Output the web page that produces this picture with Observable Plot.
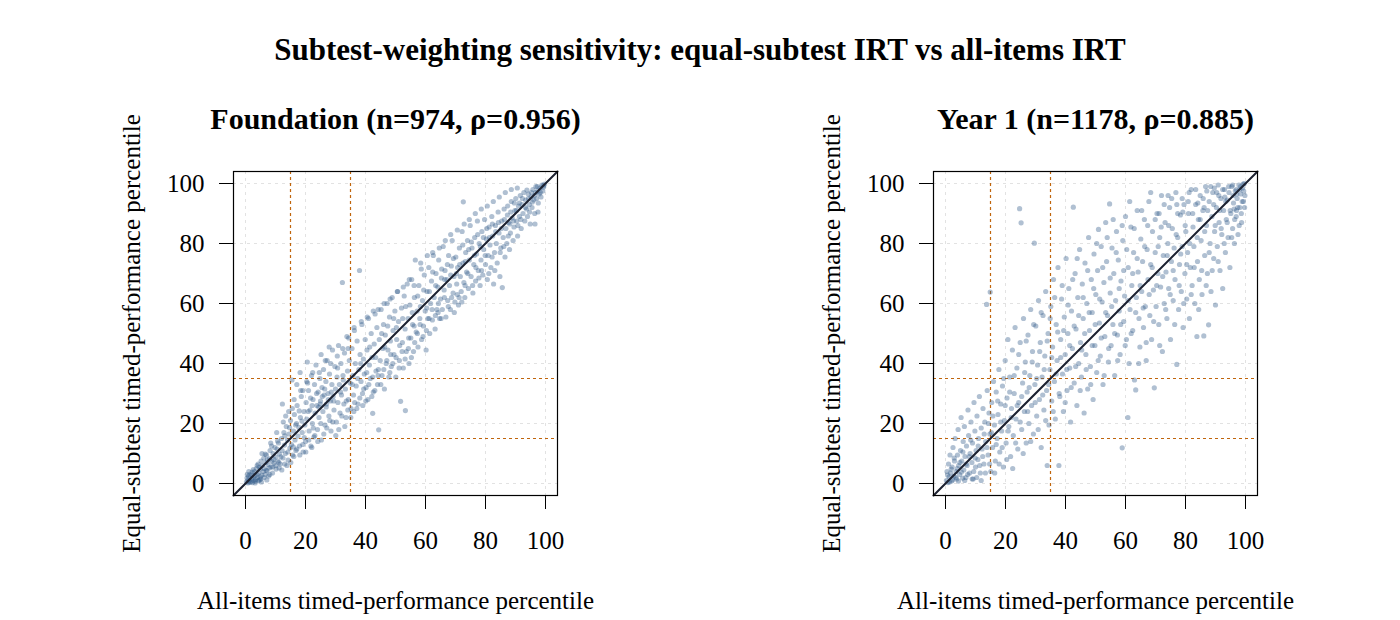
<!DOCTYPE html>
<html>
<head>
<meta charset="utf-8">
<script src="https://cdn.jsdelivr.net/npm/d3@7"></script>
<script src="https://cdn.jsdelivr.net/npm/@observablehq/plot@0.6"></script>
<style>
  html, body { margin: 0; padding: 0; background: #fff; }
  #wrap { position: relative; width: 1400px; height: 620px; overflow: hidden; font-family: "Liberation Serif", "Times New Roman", serif; }
  #title { position: absolute; left: 0; top: 32px; width: 1400px; text-align: center; font-size: 31px; line-height: 36px; font-weight: bold; color: #000; }
  .panel { position: absolute; top: 100px; }
</style>
</head>
<body>
<div id="wrap">
  <div id="title">Subtest-weighting sensitivity: equal-subtest IRT vs all-items IRT</div>
  <div id="p1" class="panel" style="left:100px"></div>
  <div id="p2" class="panel" style="left:800px"></div>
</div>
<script>
// ---- data ----
const panelTitles = ["Foundation (n=974, \u03c1=0.956)", "Year 1 (n=1178, \u03c1=0.885)"];
const xLabel = "All-items timed-performance percentile";
const yLabel = "Equal-subtest timed-performance percentile";
const tickValues = [0, 20, 40, 60, 80, 100];
const cutoffs = [15, 35];
const axisDomain = [-4, 104];

// Foundation: [all-items percentile, equal-subtest percentile]
const foundationPts = [
[0.3,0.5],[0.5,1.8],[0.8,0.2],[1,2.5],[1.2,1],[1.5,3],[1.7,0.6],[2,1.5],[2.2,3.8],[2.5,2],[2.8,0.9],[3,4],[3.1,2.6],[3.4,1.4],[3.6,5],[3.8,3],[4,2],[4.2,6.5],[4.4,3.5],[4.7,1.2],[5,4.8],[5.2,7.5],[5.4,2.8],[5.6,6],[5.9,4],
[6.1,8.5],[6.3,5],[6.5,3],[6.8,7],[7,9.5],[7.2,4.2],[7.5,6.3],[7.7,2.5],[8,8.2],[8.2,11],[8.5,5.5],[8.8,7.4],[9,3.5],[9.2,10],[9.5,6.8],[9.8,12],[10,8.8],[10.2,4.8],
[10.5,11.5],[10.8,7.5],[11,13.5],[11.3,9.8],[11.6,6.5],[12,15],[12.2,11],[12.5,8.5],[12.8,17],[13,12.8],[13.3,10],[13.6,19],[14,14.5],[14.2,7.8],[14.5,16.5],[14.8,11.8],[15,21],[15.3,13],[15.5,34.5],[15.7,9.5],
[16,17.5],[16.3,23],[16.5,14.5],[16.8,11],[17,20],[17.2,26],[17.5,15.8],[17.8,18.7],[18,12.5],[18.3,22],[18.6,29],[18.9,17],[19.2,10.5],[19.5,24],[19.8,19.5],[20,14],[20.2,27],[20.4,21.5],[20.6,40.5],
[21,31],[21.2,17.5],[21.5,24.5],[21.8,12.5],[22,36],[22.3,20],[22.5,28],[22.8,15.5],[23,33],[23.2,23.5],[23.5,39.5],[23.8,26],[24,18],[24.2,30.5],[24.5,22],[24.8,35],[25,27.5],[25.3,14.5],
[25.5,32],[25.8,24],[26,38],[26.2,29.5],[26.5,19.5],[26.8,34],[27,26.5],[27.2,41],[27.5,30],[27.8,22.5],[28,36.5],[28.3,27.5],[28.5,17.5],[28.8,33],[29,44.5],[29.2,29],[29.5,24.5],[29.8,39],[30,31.5],
[30.3,20.5],[30.5,35.5],[30.8,27],[31,46],[31.3,33],[31.5,23.5],[31.8,40],[32,29.5],[32.3,67],[32.5,36],[32.8,26.5],[33,43.5],[33.3,31.5],[33.5,22],[33.8,49],[34,37.5],[34.3,28],[34.6,41],[34.9,33.5],
[35.2,25],[35.5,45],[35.8,36],[36,29.5],[36.3,51],[36.6,40],[36.9,32.5],[37.2,47.5],[37.5,26.5],[37.8,38],[38,71],[38.2,43],[38.5,34],[38.8,53],[39,30],[39.3,41.5],[39.6,36.5],[39.9,48],
[40.2,32],[40.5,44.5],[40.8,28],[41,55],[41.3,39.5],[41.6,35],[41.9,50],[42.2,42],[42.4,23.4],[42.6,30.5],[42.9,46.5],[43.2,56.5],[43.5,37.5],[43.8,52],[44,33],[44.4,17.9],[44.6,48],[44.9,41],
[45.2,58],[45.5,36],[45.8,45],[46,53],[46.3,31.5],[46.6,49.5],[46.9,40],[47.2,60],[47.5,44.5],[47.8,35.5],[48,55.5],[48.3,47.5],[48.6,39],[48.9,62],[49.2,51],[49.5,43],[49.8,57.5],
[50.1,35.5],[50.4,48],[50.7,64],[51,54],[51.3,41],[51.7,27.4],[52,58.5],[52.3,47],[52.6,38.5],[52.9,62.5],[53.2,51.5],[53.3,24.3],[53.6,44],[53.9,66.5],[54.2,55],[54.5,40],[54.8,59.5],
[55.1,48.5],[55.4,68],[55.7,53],[56,44],[56.3,62],[56.6,74.5],[56.9,50.5],[57.2,57.5],[57.5,45.5],[57.8,66],[58.1,55],[58.4,73.5],[58.7,48],[59,61],[59.3,52.5],[59.6,69.5],[59.9,57.5],
[60.2,44.5],[60.5,64],[60.8,55],[61.1,72],[61.4,50],[61.7,60],[62,67.5],[62.3,54.5],[62.6,76],[62.9,62],[63.2,51.5],[63.5,70],[63.8,58],[64.1,65.5],[64.4,74.5],[64.7,55],[65,61.5],
[65.3,68.5],[65.6,58],[65.9,79],[66.2,64.5],[66.5,71],[66.8,55.5],[67.1,68],[67.4,61],[67.7,76],[68,66],[68.3,58],[68.6,72.5],[68.9,81],[69.2,63.5],[69.5,69],[69.8,60.5],
[70.1,75.5],[70.4,66.5],[70.7,72],[71,59.5],[71.3,78.5],[71.6,69],[71.9,64],[72.2,84],[72.5,73.5],[72.6,93.9],[72.8,67],[73.1,62],[73.4,77],[73.7,70.5],[74,81],[74.3,65],[74.6,74.5],[74.9,86],
[75.2,69],[75.5,78.5],[75.8,63.5],[76.1,73],[76.4,82],[76.7,67.5],[77,76.5],[77.3,87.5],[77.6,71],[77.9,80],[78.2,66],[78.5,74.5],[78.8,84],[79.1,69.5],[79.4,78],[79.7,88],[80,73],
[80.3,81.5],[80.6,68],[80.9,76],[81.2,85.5],[81.5,79.5],[81.8,72],[82.1,89],[82.4,82.5],[82.7,66.5],[83,77],[83.3,86],[83.6,80],[83.9,73.5],[84.2,90.5],[84.5,83.5],[84.8,69],
[85.1,78.5],[85.4,87.5],[85.6,65.3],[85.9,82],[86.2,91.5],[86.5,75.5],[86.8,85],[87.1,80],[87.4,92.5],[87.7,87],[88,78],[88.3,83.5],[88.6,94],[88.9,88.5],[89.2,81],[89.5,85.5],[89.8,91],
[90.1,95],[90.4,87.5],[90.7,82.5],[91,92.5],[91.3,89],[91.6,96],[91.9,85],[92.2,93],[92.5,90],[92.8,97],[93.1,87.5],[93.4,94.5],[93.7,91.5],[94,89],[94.3,96.5],[94.6,93],[94.9,86.5],
[95.2,95.5],[95.5,92],[95.8,98],[96.1,94.5],[96.4,90],[96.7,97],[97,95],[97.3,99],[97.6,93.5],[97.9,96.5],[98.2,98.5],[98.5,95.5],[98.8,99.5],[99.1,97.5],[99.4,98.8],[99.7,99.8],[96.5,86.5],[97.5,90.5]
];
const foundationPtsB = [
[1.4,0.4],[2.6,4.6],[0.9,1.3],[3.3,0.8],[4.9,2.2],[6.6,9.8],[5.1,1.5],[7.9,5.2],[8.7,12.5],[9.4,8.1],[6.9,4.4],[3.9,6],[2.3,0.3],[4.6,5.4],[7.3,7.9],[10.7,14.2],[11.8,8.9],[13.1,15.9],[12.6,20.5],[14.7,18.6],
[15.9,12.2],[11.2,5.2],[16.7,19.5],[17.9,24.2],[13.8,6],[18.8,20.8],[19.6,15.3],[20.9,24],[21.7,28.5],[22.6,18.5],[23.7,30],[24.4,25.5],[25.6,29],[26.4,31.5],[27.6,28],[28.6,30.5],[29.4,27.5],[26.9,25.5],[24.9,26.5],[22.2,26],
[20.7,33.5],[19.1,31],[18.2,37],[17.1,33],[16.2,28],[14.4,24],[12.3,26.5],[27.9,45.5],[25.2,43],[30.7,38.5],[31.7,30.5],[32.6,34.5],[33.6,27.5],[34.2,45],[35.6,33],[36.4,27],[37.4,35],[38.4,40],[39.4,31.5],[40.4,37],
[41.4,45.5],[42.4,35.5],[43.4,42],[44.3,38],[45.4,50],[46.4,45.5],[47.4,52.5],[48.4,43],[49.4,55],[50.3,52],[51.4,46],[52.4,55],[53.4,59],[54.4,48.5],[55.6,57],[56.2,52.5],[57.4,62.5],[58.3,59],[59.4,64.5],[60.4,58.5],
[61.3,64],[62.4,70.5],[63.4,66],[64.3,60],[65.4,71.5],[66.4,68],[67.3,73],[68.4,69.5],[69.3,75],[70.3,70],[71.4,73],[72.4,79.5],[73.3,74],[74.4,78],[75.3,80.5],[76.3,76],[77.4,83],[78.3,79],[79.3,82],[80.4,85],
[81.3,82],[82.3,86.5],[83.4,84],[84.3,87],[85.3,85],[86.3,88],[87.3,89.5],[88.4,90.5],[89.3,87.5],[90.3,91],[91.3,93.5],[92.3,95],[93.3,92],[94.3,95],[95.3,97],[96.3,96],[97.4,97.5],[98.3,97],[99.2,99.2],[96.8,99],
[95.6,93.8],[93.8,97.8],[94.7,90.5],[91.8,88],[90.8,86],[89.6,93.5],[88.1,86.5],[87.6,82.5],[86.1,79],[84.9,77],[83.1,71],[82.2,75.5],[81.1,70],[79.9,76],[78.7,71],[77.8,68.5],[76.8,72],[75.7,66],[74.1,70],[73.2,66],
[72.1,60.5],[71.2,62],[70.6,63],[69.6,57],[68.7,62],[67.6,59],[66.3,62],[65.2,55],[64.2,57],[63.3,56],[62.2,58],[61.2,55],[60.3,51],[59.2,49],[58.2,53],[57.3,50],[56.4,47],[55.3,42],[54.3,45],[53.2,41.5],
[52.2,44],[51.2,38.5],[50.2,42],[49.1,40],[48.1,37],[47.1,41],[46.1,38],[45.1,33],[44.2,36],[43.1,31],[42.1,29],[41.1,33],[40.1,27.5],[39.1,26],[38.1,28.5],[37.1,25],[36.1,24],[35.1,22],[34.1,24.5],[33.1,19],
[32.1,22.5],[31.1,18],[30.1,16],[29.1,20.5],[28.1,21],[27.1,18.5],[26.1,16.5],[25.1,20],[24.1,14],[23.1,16],[22.1,12],[21.1,14.5],[20.1,10.5],[19.1,13],[18.1,9.5],[17.1,11.5],[16.1,9],[15.1,7],[14.1,10.5],[13.1,6.5],
[12.1,4.5],[11.1,7],[10.1,6],[9.1,5.5],[8.1,3],[7.1,1.2],[6.2,2],[5.3,0.5],[4.3,0.9],[3.2,0.2],[2.1,2.8],[1.1,4],[0.6,3],
[5.5,10],[8.4,13.5],[10.4,17],[13.4,22.5],[15.6,25],[18.4,31],[20.4,34],[22.4,37],[24.6,37],[26.6,41],[28.4,40],[30.6,42.5],[32.4,45],[34.4,48.5],[36.2,52],[38.6,54],[40.6,55.5],[42.6,57.5],[44.2,58],[46.2,60],
[48.2,61.5],[50.6,64],[52.6,65.5],[54.6,68],[56.2,66],[58.6,71.5],[60.6,76],[62.4,77],[64.6,78.5],[66.6,81],[68.4,83],[70.6,84.5],[72.9,86.5],[74.6,88],[76.6,90],[78.6,91.5],[80.6,92.5],[82.6,94],[84.6,95.5],[86.6,97],
[88.6,98],[90.6,98.5]
];

// Year 1: [all-items percentile, equal-subtest percentile]
const year1Pts = [
[0.3,1],[0.5,4],[0.8,0.3],[1,6.5],[1.2,2.2],[1.5,9.5],[1.7,3.5],[2,0.8],[2.2,5.5],[2.5,12],[2.8,2.5],[3,7.5],[3.2,15],[3.5,4],[3.7,1.5],[4,9.5],[4.2,18],[4.4,6],[4.7,3],[5,11],[5.2,22],[5.4,7.5],[5.7,1.8],[5.9,14],
[6.1,4.5],[6.3,19],[6.5,9],[6.8,2],[7,12.5],[7.2,6],[7.5,24.5],[7.7,16],[8,3.5],[8.2,10],[8.5,20.5],[8.8,7],[9,13.5],[9.2,1.5],[9.5,27],[9.8,17.5],[10,5.5],[10.2,11],
[10.5,22.5],[10.8,8],[11,15],[11.3,29],[11.6,3.5],[11.9,18.5],[12.2,11.5],[12.5,25],[12.8,6.5],[13.1,20.5],[13.4,14],[13.7,59.7],[13.9,31],[14.2,9.5],[14.5,23.5],[14.8,16.5],[14.9,63.8],[15.1,4],
[15.4,27],[15.7,12],[16,34],[16.3,19.5],[16.6,7.5],[16.9,30.5],[17.2,15],[17.5,23],[17.8,38],[18.1,10.5],[18.4,26.5],[18.7,17.5],[19,32.5],[19.3,5.5],[19.6,21],[19.9,41],[20.2,13.5],[20.5,28.5],
[20.8,48],[21.1,19],[21.4,35.5],[21.7,9],[22,25],[22.3,44.5],[22.6,16],[22.9,30],[23.2,52],[23.5,21.5],[23.8,38.5],[24.1,11.5],[24.4,27],[24.7,91.6],[24.9,47],[25.2,86.9],[25.4,18],[25.7,33.5],
[26,55],[26.3,24],[26.6,40.5],[26.9,13.5],[27.2,30.5],[27.5,49.5],[27.8,20],[28.1,36],[28.4,58],[28.7,26],[29,44],[29.3,16.5],[29.6,80.1],[29.8,33],[30.1,52.5],[30.4,22.5],[30.7,39.5],[31,61],
[31.3,28],[31.6,47],[31.9,12],[32.2,35.5],[32.5,56],[32.8,24.5],[33.1,42.5],[33.4,64],[33.7,31],[33.9,6],[34.2,50],[34.5,19.5],[34.8,38],[35.1,59],[35.4,27.5],[35.7,45.5],
[36,68],[36.3,34],[36.6,21.5],[36.9,53],[37.2,41],[37.5,72],[37.8,6],[38.1,29],[38.4,48],[38.7,61.5],[39,36.5],[39.3,24],[39.6,55.5],[39.9,43],[40.2,75],
[40.5,31],[40.8,50],[41.1,65],[41.4,38.5],[41.7,20.5],[42,57.5],[42.3,45],[42.6,92.1],[42.9,33.5],[43.2,70],[43.5,51.5],[43.8,26],[44.1,62],[44.4,40],[44.7,78],[45,47],
[45.3,35.5],[45.6,66.5],[45.9,55],[46.2,23.5],[46.5,73.5],[46.8,43],[47.1,60],[47.4,31.5],[47.7,82],[48,51],[48.3,39],[48.6,68],[48.9,57],[49.2,28],[49.5,76.5],[49.8,46],[50.1,63],
[50.4,37],[50.7,71],[51,84.7],[51.3,53.5],[51.6,42.5],[51.9,79],[52.2,60.5],[52.5,33],[52.8,67],[53.1,49],[53.4,87],[53.7,74],[54,56],[54.3,40.5],[54.7,93.2],[54.9,63.5],[55.2,46],
[55.5,78.5],[55.8,53],[56.1,70],[56.4,36],[56.7,61],[57,84],[57.3,49.5],[57.6,74.5],[57.9,57.5],[58.2,43],[58.5,67.5],[58.9,11.9],[59.1,81],[59.4,54],[59.7,62.5],[60,89],
[60.3,48],[60.8,22],[60.9,72],[61.2,40],[61.5,58],[61.8,85.5],[62.1,66],[62.4,51],[62.7,77],[63,34.5],[63.4,31.2],[63.6,62],[63.9,91],[64.2,70.5],[64.5,55],[64.8,45.5],
[65.1,81.5],[65.4,64],[65.7,74],[66,52],[66.3,88],[66.6,59],[66.9,41],[67.2,78],[67.5,68],[67.8,94],[68.1,56],[68.4,73],[68.7,48],[69,84],[69.3,64.5],[69.6,31.9],[69.9,77],
[70.2,59],[70.5,90],[70.8,70],[71.1,53],[71.4,82],[71.7,65.5],[72,96],[72.3,44],[72.6,76],[72.9,60],[73.2,87],[73.5,70.5],[73.8,55],[74.1,80],[74.4,65],[74.7,92],[75,48],
[75.3,74],[75.6,85],[75.9,61],[76.2,78.5],[76.5,68],[76.8,97],[77.1,39.7],[77.4,82],[77.7,58],[78,73],[78.3,89.5],[78.6,64],[78.9,79],[79.2,52],[79.5,93],[79.8,70],
[80.1,84],[80.4,61.5],[80.7,77],[81,90],[81.3,55],[81.6,72],[81.9,98],[82.2,66],[82.5,85.5],[82.8,79],[83.1,60],[83.4,93],[83.8,49],[84,74],[84.3,88],[84.6,68],[84.9,96],
[85.2,81],[85.5,63],[85.8,91],[86.1,49.2],[86.4,76],[86.7,99],[87,86],[87.3,70],[87.7,52.9],[87.9,94],[88.2,80],[88.5,64],[88.8,89],[89.1,97],[89.4,75],[89.7,84],[90,59.5],
[90.3,92],[90.6,79],[90.9,99.5],[91.2,87],[91.5,71],[91.8,95],[92.1,83],[92.4,65],[92.7,91],[93,98],[93.3,77],[93.6,88],[93.9,94.5],[94.2,82],[94.5,97],[94.8,72],
[95.1,90],[95.4,99],[95.7,85],[96,93.5],[96.3,80],[96.6,97.5],[96.9,89],[97.2,95],[97.5,83],[97.8,99.5],[98.1,92],[98.4,96.5],[98.7,87],[99,98.5],[99.3,94],[99.6,100],[99.8,96],[98,98],[97,91]
];
const year1PtsB = [
[0.7,2.8],[1.3,0.5],[1.9,4.8],[2.4,1.2],[2.9,8.5],[3.4,2],[3.9,5],[4.3,0.8],[4.8,7],[5.3,3.8],[5.8,10.5],[6.4,1],[6.9,6.5],[7.4,3],[7.9,9],[8.4,14.5],[8.9,1.5],[9.4,4],[9.9,8.5],[10.4,2],
[10.9,12.5],[11.4,6],[11.9,1],[12.4,9],[12.9,16.5],[13.3,3.5],[13.8,12],[14.3,20],[14.7,6.5],[15.3,17],[15.8,22.5],[16.4,3.5],[16.9,13],[17.4,27.5],[17.9,6.5],[18.4,20.5],[18.9,12],[19.4,35],[19.9,26],[20.4,8],
[20.9,17.5],[21.4,30.5],[21.9,22],[22.4,5],[22.9,36],[23.4,13.5],[23.9,26],[24.4,43],[24.9,20.5],[25.4,29],[25.9,10],[26.4,37],[26.9,47.5],[27.4,24],[27.9,32],[28.4,14],[28.9,40.5],[29.4,53],[29.9,27],[30.4,35],
[30.9,18],[31.4,44],[31.9,57],[32.4,29.5],[32.9,38],[33.4,21],[33.9,47.5],[34.4,33],[34.9,55],[35.4,42],[35.9,24],[36.4,62],[36.9,36.5],[37.4,50.5],[37.9,30],[38.4,42],[38.9,66],[39.4,51],[39.9,27],[40.4,38],
[40.9,59.5],[41.4,46],[41.9,32],[42.4,68],[42.9,52.5],[43.4,39],[43.9,75],[44.4,56],[44.9,31],[45.4,44.5],[45.9,62],[46.4,50],[46.9,38],[47.4,71],[47.9,57],[48.4,33],[48.9,46],[49.4,65],[49.9,53],[50.4,80],
[50.9,41],[51.4,61.5],[51.9,48.5],[52.4,72],[52.9,36],[53.4,57],[53.9,82],[54.4,45],[54.9,68.5],[55.4,59],[55.9,88],[56.4,50],[56.9,77],[57.4,41],[57.9,65],[58.4,53],[58.9,86],[59.4,71],[59.9,46],[60.4,78],
[60.9,61],[61.4,94],[61.9,50],[62.4,70],[62.9,85],[63.4,57],[63.9,75],[64.4,40],[64.9,66],[65.4,91],[65.9,58.5],[66.4,79],[66.9,47],[67.4,86],[67.9,63],[68.4,97],[68.9,72],[69.4,54],[69.9,88],[70.4,66],
[70.9,79],[71.4,46],[71.9,85.5],[72.4,69],[72.9,93],[73.4,58],[73.9,76],[74.4,86],[74.9,63],[75.4,95],[75.9,71],[76.4,53],[76.9,83],[77.4,90],[77.9,66],[78.4,76.5],[78.9,95],[79.4,60],[79.9,86],[80.4,73],
[80.9,94],[81.4,80],[81.9,63],[82.4,90],[82.9,72],[83.4,98],[83.9,82],[84.4,58],[84.9,88],[85.4,71],[85.9,95],[86.4,84],[86.9,66],[87.4,91],[87.9,77],[88.4,99],[88.9,71],[89.4,93],[89.9,86],[90.4,97],
[90.9,74],[91.4,91],[91.9,85],[92.4,98],[92.9,80],[93.4,94],[93.9,87],[94.4,99],[94.9,91],[95.4,82],[95.9,96],[96.4,88],[96.9,98],[97.4,92],[97.9,86],[98.4,99],[98.9,94],[99.4,97.5],[99.7,92],[99.2,99.8],
[98.6,90],[97.1,96.5],[96.2,91.5],[95.7,99.5],[93.1,95.5],[91.1,96],[89.6,98.5],[87.1,97.5],[86.2,92],[84.1,93.5],[81.2,97],[79.1,90.5],[77.1,93],[74.2,96],[71.2,90]
];

// ---- drawing ----
function panel(pts, title) {
  const data = pts.map(([x, y]) => ({x, y}));
  const diag = axisDomain.map(v => ({x: v, y: v}));
  return Plot.plot({
    width: 477,
    height: 520,
    marginLeft: 133,
    marginRight: 20,
    marginTop: 71,
    marginBottom: 125,
    x: {domain: axisDomain},
    y: {domain: axisDomain},
    style: {fontFamily: "'Liberation Serif', 'Times New Roman', serif", fontSize: "25px", background: "transparent", color: "#000", overflow: "visible"},
    marks: [
      Plot.gridX(tickValues, {stroke: "#e2e2e2", strokeOpacity: 1, strokeDasharray: "3,4", strokeWidth: 1}),
      Plot.gridY(tickValues, {stroke: "#e2e2e2", strokeOpacity: 1, strokeDasharray: "3,4", strokeWidth: 1}),
      Plot.ruleX(cutoffs, {stroke: "#c0650c", strokeDasharray: "3,3", strokeWidth: 1.2}),
      Plot.ruleY(cutoffs, {stroke: "#c0650c", strokeDasharray: "3,3", strokeWidth: 1.2}),
      Plot.dot(data, {x: "x", y: "y", r: 2.6, fill: "#2f5a8a", fillOpacity: 0.38, stroke: "none"}),
      Plot.line(diag, {x: "x", y: "y", stroke: "#1c2130", strokeWidth: 2}),
      Plot.frame({stroke: "#000", strokeWidth: 1.2}),
      Plot.axisX(tickValues, {tickSize: 14, tickPadding: 22, tickFormat: d => String(d), label: xLabel, labelAnchor: "center", labelOffset: 113, labelArrow: "none", fontSize: 25}),
      Plot.axisY(tickValues, {tickSize: 14, tickPadding: 15, tickFormat: d => String(d), label: yLabel, labelAnchor: "center", labelOffset: 111, labelArrow: "none", fontSize: 25}),
      Plot.text([title], {text: d => d, frameAnchor: "top", dy: -64, fontWeight: "bold", fontSize: 30})
    ]
  });
}

document.getElementById("p1").appendChild(panel(foundationPts.concat(foundationPtsB), panelTitles[0]));
document.getElementById("p2").appendChild(panel(year1Pts.concat(year1PtsB), panelTitles[1]));
</script>
</body>
</html>
